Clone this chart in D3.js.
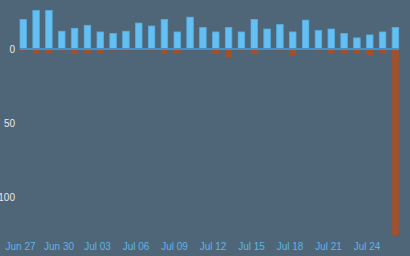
<!DOCTYPE html>
<meta charset='utf-8'>
<style>
    body { margin: 0; background: #4f6679; }
    svg { display: block; }
    text { font-family: 'Liberation Sans', Arial, sans-serif; }
</style>
<body>
    <script src='https://cdn.jsdelivr.net/npm/d3@7'></script>
    <script>
        var width = 410,
            height = 256;

        // one bar pair per day, Jun 27 .. Jul 26
        var days = ['2023-06-27', '2023-06-28', '2023-06-29', '2023-06-30', '2023-07-01',
            '2023-07-02', '2023-07-03', '2023-07-04', '2023-07-05', '2023-07-06',
            '2023-07-07', '2023-07-08', '2023-07-09', '2023-07-10', '2023-07-11',
            '2023-07-12', '2023-07-13', '2023-07-14', '2023-07-15', '2023-07-16',
            '2023-07-17', '2023-07-18', '2023-07-19', '2023-07-20', '2023-07-21',
            '2023-07-22', '2023-07-23', '2023-07-24', '2023-07-25', '2023-07-26'];
        var upValues = [20, 26, 26, 12, 14, 16, 11.5, 10.5, 12, 17.5,
            15.5, 20, 11.5, 21.5, 14.5, 11.5, 14.5, 11.5, 20, 13.5,
            16.5, 11.5, 19.5, 12.5, 13.5, 10.5, 7.5, 9.5, 11.5, 14.5];
        var downValues = [1, 3, 3, 1, 3.5, 3, 3, 1, 1, 0,
            1, 3.5, 3, 0, 0, 3.5, 5.5, 1, 3.5, 0,
            1, 4.5, 0, 1, 3, 3, 3, 4.5, 3, 126];
        var xTicks = ['2023-06-27', '2023-06-30', '2023-07-03', '2023-07-06', '2023-07-09',
            '2023-07-12', '2023-07-15', '2023-07-18', '2023-07-21', '2023-07-24'];
        var yTicks = [0, 50, 100];

        var parse = d3.timeParse('%Y-%m-%d');
        var dates = days.map(parse);

        var svg = d3.select('body').append('svg')
            .attr('width', width)
            .attr('height', height);

        var x = d3.scaleTime()
            .domain([parse('2023-06-27'), parse('2023-07-27')])
            .range([20, 405]);

        var y = d3.scaleLinear()
            .domain([-30, 130])
            .range([49 - 30 * 1.48, 49 + 130 * 1.48]);

        var barW = 6.5;

        svg.selectAll('rect.up').data(upValues).enter().append('rect')
            .attr('class', 'up')
            .attr('x', function(d, i) { return x(dates[i]); })
            .attr('y', function(d) { return y(-d); })
            .attr('width', barW)
            .attr('height', function(d) { return y(0) - y(-d); })
            .attr('fill', '#64bff2')
            .attr('stroke', '#55aee2')
            .attr('stroke-width', 0.8);

        svg.selectAll('rect.down').data(downValues).enter().append('rect')
            .attr('class', 'down')
            .attr('x', function(d, i) { return x(dates[i]); })
            .attr('y', y(0))
            .attr('width', barW)
            .attr('height', function(d) { return y(d) - y(0); })
            .attr('fill', '#a4502a');

        // zero line
        svg.append('line')
            .attr('x1', x(dates[0]))
            .attr('x2', x(dates[dates.length - 1]) + barW)
            .attr('y1', y(0))
            .attr('y2', y(0))
            .attr('stroke', '#4690c6')
            .attr('stroke-width', 2);

        var yAxis = d3.axisLeft(y)
            .tickValues(yTicks)
            .tickSize(0)
            .tickPadding(0)
            .tickFormat(d3.format('d'));

        var gy = svg.append('g')
            .attr('transform', 'translate(15,0)')
            .call(yAxis);
        gy.select('.domain').remove();
        gy.selectAll('text')
            .attr('fill', '#e6e9ec')
            .style('font-size', '10px');

        var xAxis = d3.axisBottom(x)
            .tickValues(xTicks.map(parse))
            .tickSize(0)
            .tickPadding(3)
            .tickFormat(d3.timeFormat('%b %d'));

        var gx = svg.append('g')
            .attr('transform', 'translate(0,240)')
            .call(xAxis);
        gx.select('.domain').remove();
        gx.selectAll('text')
            .attr('fill', '#5cb4e8')
            .style('font-size', '10px');
   </script>
</body>
